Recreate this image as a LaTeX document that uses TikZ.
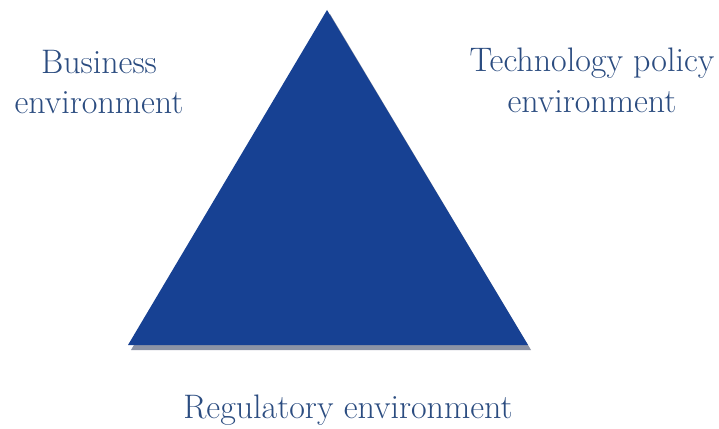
\documentclass[tikz,border=0pt]{standalone}
\usepackage{fontspec}
\definecolor{triblue}{HTML}{174193}
\definecolor{txtblue}{HTML}{2B4C80}
\definecolor{shadowgray}{HTML}{8C93A5}
\tikzset{
  lbl/.style={text=txtblue, inner sep=0pt, anchor=base, font=\fontsize{34}{40}\selectfont},
}
\begin{document}
\begin{tikzpicture}[x=1pt,y=-1pt]
\useasboundingbox (0,0) rectangle (719,428);
% shadow
\fill[shadowgray] (330,14) -- (531,350) -- (131,350) -- cycle;
% triangle
\fill[triblue] (327,10) -- (528,345) -- (128,345) -- cycle;
\coordinate (apex) at (327,10);
% labels
\node[lbl] (bus1) at (99,73) {Business};
\node[lbl] (bus2) at (99,113) {environment};
\node[lbl] (tech1) at (592,71) {Technology policy};
\node[lbl] (tech2) at (592,112) {environment};
\node[lbl] (reg) at (348,418) {Regulatory environment};
\end{tikzpicture}
\end{document}
